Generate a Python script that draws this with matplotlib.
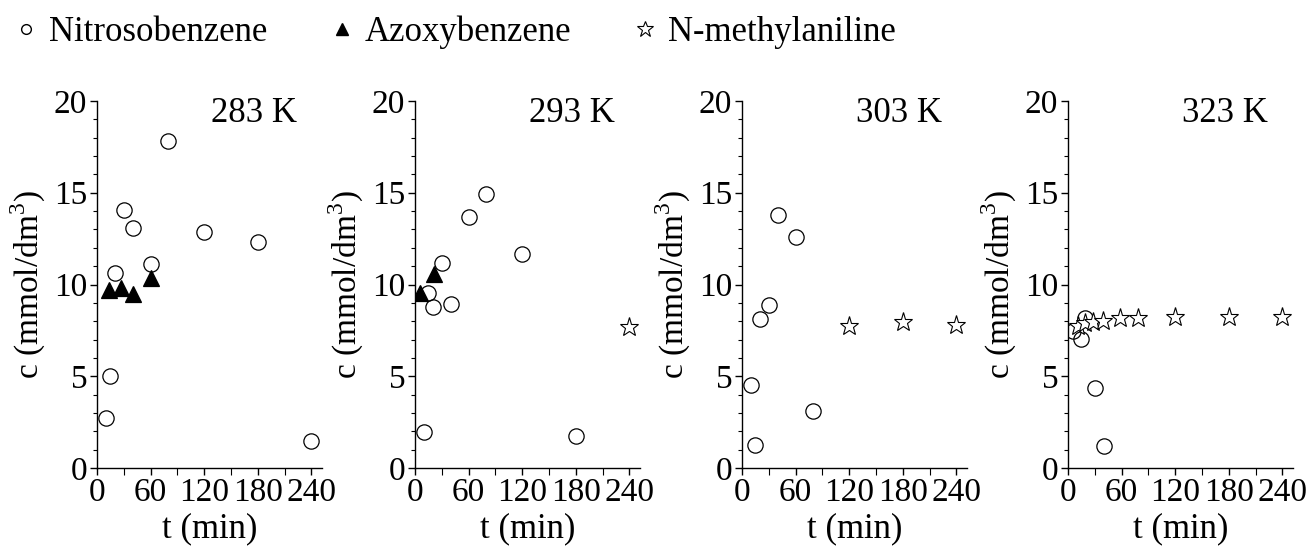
import matplotlib
matplotlib.use("Agg")
import matplotlib.pyplot as plt
from matplotlib.lines import Line2D
from matplotlib.ticker import MultipleLocator

plt.rcParams['font.family'] = ['Liberation Serif', 'DejaVu Serif']
plt.rcParams['mathtext.fontset'] = 'custom'
plt.rcParams['mathtext.rm'] = 'Liberation Serif'

temps = ["283 K", "293 K", "303 K", "323 K"]

# Nitrosobenzene (open circles)
nitro_t = [
    [10, 15, 20, 30, 40, 60, 80, 120, 180, 240],
    [10, 15, 20, 30, 40, 60, 80, 120, 180],
    [10, 15, 20, 30, 40, 60, 80],
    [6, 15, 19, 30, 40],
]
nitro_c = [
    [2.74, 5.0, 10.64, 14.08, 13.1, 11.1, 17.8, 12.86, 12.3, 1.45],
    [1.97, 9.55, 8.8, 11.18, 8.92, 13.66, 14.94, 11.64, 1.75],
    [4.52, 1.27, 8.1, 8.89, 13.8, 12.58, 3.13],
    [7.47, 7.05, 8.2, 4.37, 1.18],
]

# Azoxybenzene (filled triangles)
azoxy_t = [
    [13, 27, 40, 60],
    [6, 21],
    [],
    [],
]
azoxy_c = [
    [9.7, 9.8, 9.5, 10.35],
    [9.55, 10.55],
    [],
    [],
]

# N-methylaniline (open stars)
nma_t = [
    [],
    [240],
    [120, 180, 240],
    [11, 19, 28, 39, 58, 78, 120, 180, 240],
]
nma_c = [
    [],
    [7.7],
    [7.72, 7.94, 7.78],
    [7.75, 7.9, 7.95, 8.0, 8.15, 8.15, 8.25, 8.25, 8.25],
]

xticks = [0, 60, 120, 180, 240]
yticks = [0, 5, 10, 15, 20]

W, H = 1306, 547
fig = plt.figure(figsize=(W / 100, H / 100), dpi=100)

lefts = [97, 415, 742, 1068]
aw, bottom, top = 225, 468, 101

FS = 25
for i in range(4):
    ax = fig.add_axes([lefts[i] / W, (H - bottom) / H, aw / W, (bottom - top) / H])
    ax.plot(nitro_t[i], nitro_c[i], linestyle='none', marker='o', ms=11,
            mfc='none', mec='black', mew=0.9, zorder=3)
    ax.plot(azoxy_t[i], azoxy_c[i], linestyle='none', marker='^', ms=11,
            mfc='black', mec='black', mew=0.9, zorder=4)
    ax.plot(nma_t[i], nma_c[i], linestyle='none', marker='*', ms=14,
            mfc='white', mec='black', mew=0.8, zorder=5)
    ax.set_xlim(0, 252)
    ax.set_ylim(0, 20)
    ax.set_xticks(xticks)
    ax.set_yticks(yticks)
    ax.xaxis.set_minor_locator(MultipleLocator(30))
    ax.yaxis.set_minor_locator(MultipleLocator(1))
    ax.tick_params(axis='both', which='major', direction='out', length=5,
                   width=1, labelsize=24, pad=2)
    ax.tick_params(axis='both', which='minor', direction='out', length=3, width=0.8)
    ax.tick_params(axis='x', which='minor', length=5)
    for s in ['top', 'right']:
        ax.spines[s].set_visible(False)
    for s in ['left', 'bottom']:
        ax.spines[s].set_linewidth(1)
    ax.set_xlabel("t (min)", fontsize=FS, labelpad=3)
    ax.set_ylabel("c (mmol/dm$^3$)", fontsize=24, labelpad=4)
    ax.text(0.89, 0.967, temps[i], transform=ax.transAxes, ha='right', va='center',
            fontsize=FS)

handles = [
    Line2D([], [], linestyle='none', marker='o', ms=7, mfc='none', mec='black', mew=1),
    Line2D([], [], linestyle='none', marker='^', ms=9, mfc='black', mec='black'),
    Line2D([], [], linestyle='none', marker='*', ms=12, mfc='white', mec='black', mew=0.8),
]
labels = ["Nitrosobenzene", "Azoxybenzene", "N-methylaniline"]
fig.legend(handles, labels, loc='upper left', bbox_to_anchor=(0.0133, 0.971),
           ncol=3, frameon=False, fontsize=FS, handlelength=0.5,
           handletextpad=0.4, columnspacing=1.9, borderaxespad=0, borderpad=0)

fig.savefig("out.png", dpi=100)
